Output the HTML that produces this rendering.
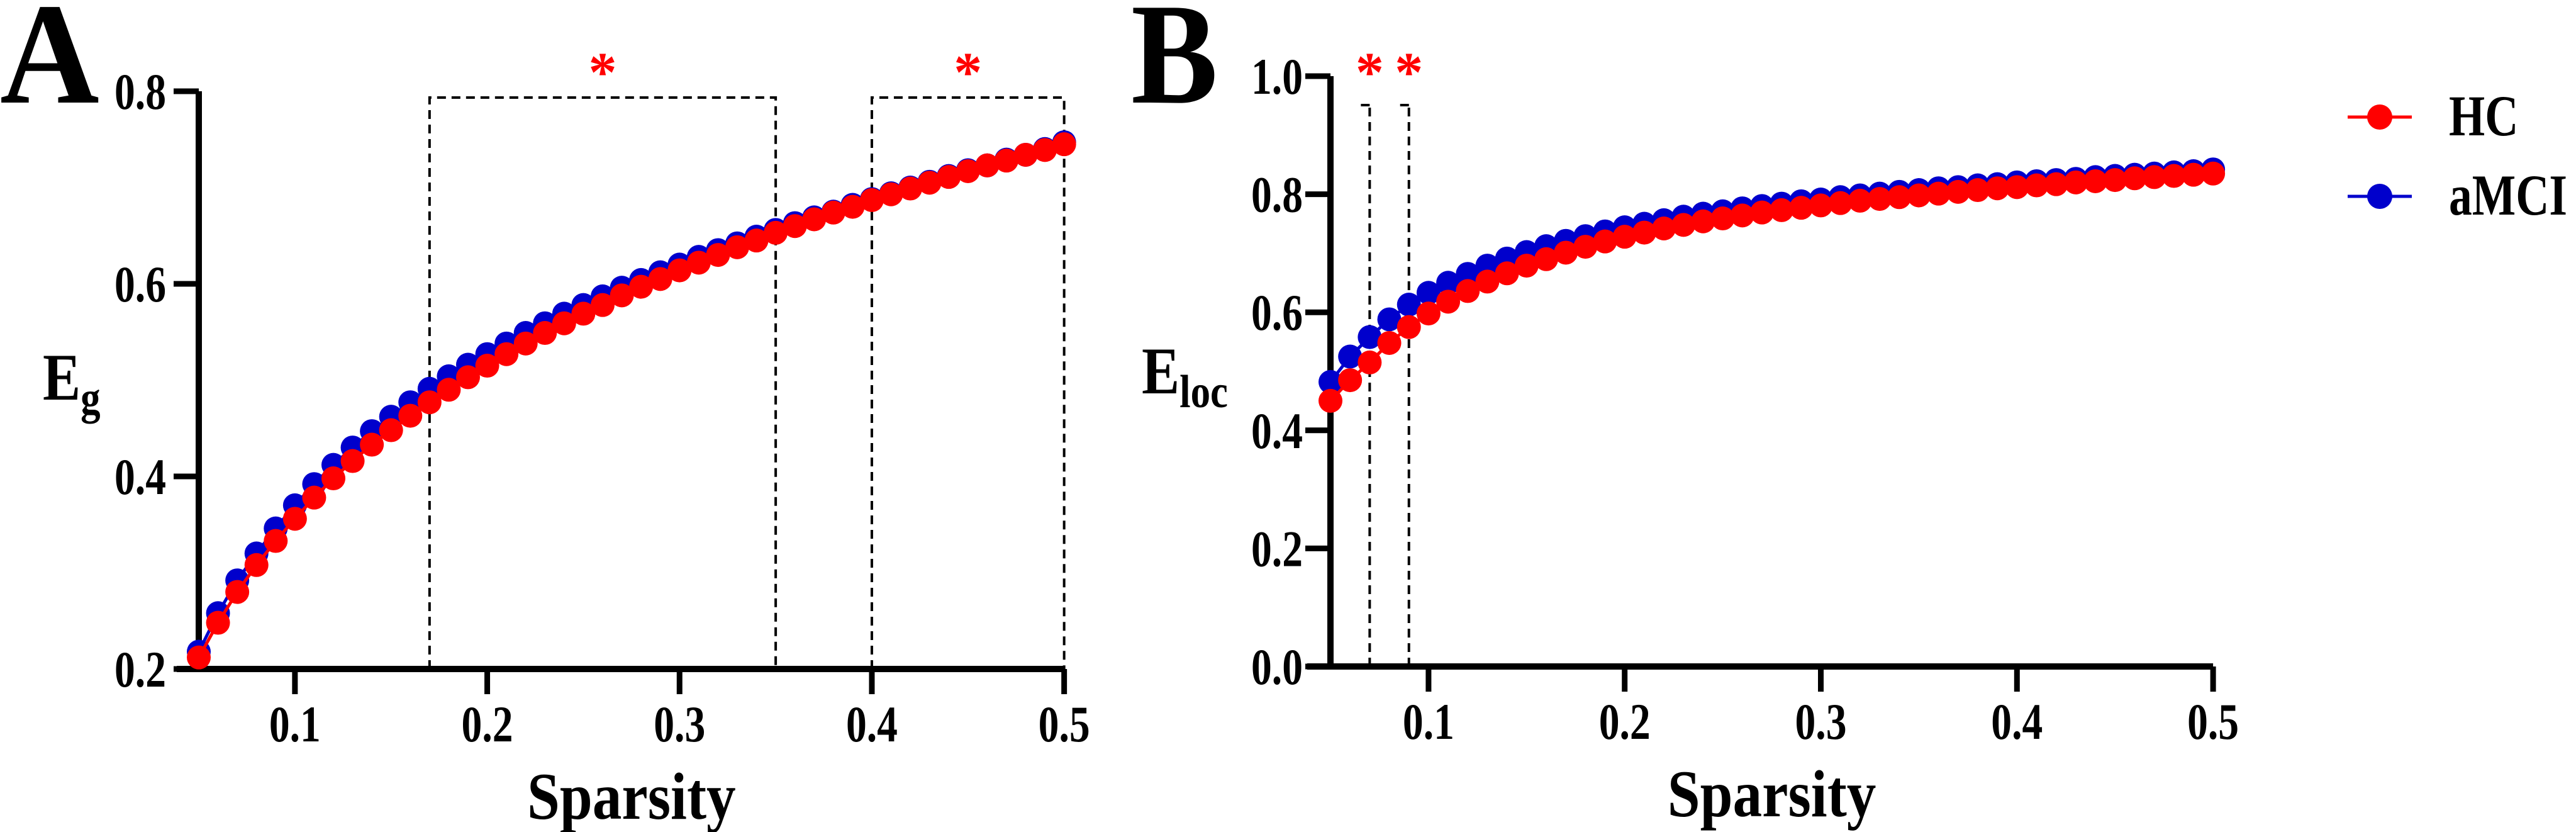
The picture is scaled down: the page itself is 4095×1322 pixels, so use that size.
<!DOCTYPE html>
<html><head><meta charset="utf-8"><style>
html,body{margin:0;padding:0;background:#fff;}
svg{display:block;font-family:"Liberation Serif","Times New Roman",serif;font-weight:bold;}
</style></head><body>
<svg id="chart" width="4095" height="1322" viewBox="0 0 4095 1322">
<text transform="translate(0,163) scale(0.95,1)" font-size="230">A</text>
<text transform="translate(1798,163) scale(0.9,1)" font-size="230">B</text>
<g id="pa"></g>
<g id="pb"></g>
<g>
<g>
<line x1="3732" y1="186" x2="3834" y2="186" stroke="#ff0000" stroke-width="5"/>
<circle cx="3783" cy="186" r="20" fill="#ff0000"/>
<text transform="translate(3893,215) scale(0.8,1)" font-size="92">HC</text></g>
<g>
<line x1="3732" y1="312" x2="3834" y2="312" stroke="#0000cc" stroke-width="5"/>
<circle cx="3783" cy="312" r="20" fill="#0000cc"/>
<text transform="translate(3893,341) scale(0.8,1)" font-size="92">aMCI</text></g>
</g>
</svg>
<script>
const sparsity=[];for(let i=5;i<=50;i++)sparsity.push(i/100);
const egHC=[.212,.248,.28,.308,.333,.356,.378,.398,.416,.433,.448,.463,.477,.490,.503,.515,.527,.538,.549,.559,.569,.578,.588,.597,.605,.614,.622,.630,.638,.645,.653,.660,.667,.674,.680,.687,.693,.699,.705,.711,.717,.723,.728,.734,.739,.745];
const egMCI=[.218,.258,.292,.320,.346,.370,.392,.412,.430,.447,.462,.477,.491,.504,.516,.527,.538,.549,.559,.569,.578,.587,.596,.604,.612,.620,.628,.635,.642,.649,.656,.663,.669,.675,.682,.688,.694,.700,.706,.712,.718,.723,.729,.734,.740,.747];
const elHC=[.45,.485,.515,.548,.575,.598,.618,.636,.652,.666,.679,.690,.701,.711,.720,.728,.735,.742,.748,.754,.759,.764,.769,.773,.777,.781,.785,.789,.792,.795,.798,.801,.804,.807,.810,.812,.815,.817,.820,.822,.824,.827,.829,.831,.833,.835];
const elMCI=[.482,.525,.558,.588,.613,.633,.650,.665,.679,.691,.702,.712,.721,.729,.737,.744,.750,.756,.762,.767,.771,.776,.780,.784,.788,.791,.795,.798,.801,.804,.807,.810,.812,.815,.817,.820,.822,.824,.826,.829,.831,.833,.835,.837,.839,.842];
const xTicks=[0.1,0.2,0.3,0.4,0.5];
const yTicksA=[0.2,0.4,0.6,0.8];
const yTicksB=[0,0.2,0.4,0.6,0.8,1.0];
const sigA=[[0.17,0.35],[0.40,0.50]];
const sigB=[0.07,0.09];
const NS='http://www.w3.org/2000/svg';
function mk(p,t,a){const e=document.createElementNS(NS,t);for(const k in a)e.setAttribute(k,a[k]);p.appendChild(e);return e;}
function txt(p,x,y,s,size,anchor,sx,fill){const e=mk(p,'text',{transform:`translate(${x},${y}) scale(${sx},1)`,'font-size':size,'text-anchor':anchor,fill:fill||'#000'});e.textContent=s;return e;}
function panel(g,o){
 const X=v=>o.x0+(v-0.05)*o.xs, Y=v=>o.y0-(v-o.ymin)*o.ys;
 const ax=mk(g,'path',{d:`M${o.axL} ${o.y0}H${X(0.5)}M${X(0.05)} ${o.y0}V${Y(o.ymax)}`,stroke:'#000','stroke-width':10,fill:'none'});
 
 xTicks.forEach(t=>{mk(g,'line',{x1:X(t),x2:X(t),y1:o.y0,y2:o.y0+40,stroke:'#000','stroke-width':9});
  const tx=txt(g,X(t),o.y0+115,t.toFixed(1),82,'middle',0.8);
  });
 o.yt.forEach(t=>{mk(g,'line',{x1:X(0.05)-40,x2:X(0.05),y1:Y(t),y2:Y(t),stroke:'#000','stroke-width':9});
  const tx=txt(g,o.ylx,Y(t)+28,t.toFixed(1),82,'end',0.8);
  });
 const xt=txt(g,(X(0.05)+X(0.5))/2,o.y0+238,'Sparsity',106,'middle',0.88);
 
 o.sig(X,Y);
 [[o.b,'#0000cc','amci'],[o.r,'#ff0000','hc']].forEach(([arr,c,n])=>{
  const s=mk(g,'g',{});
  mk(s,'polyline',{points:arr.map((v,i)=>X(sparsity[i])+','+Y(v)).join(' '),stroke:c,'stroke-width':5,fill:'none'});
  arr.forEach((v,i)=>{const p=mk(s,'circle',{cx:X(sparsity[i]),cy:Y(v),r:19,fill:c});
   });
 });
}
const pa=document.getElementById('pa'),pb=document.getElementById('pb');
panel(pa,{x0:316,xs:3057,y0:1063,ymin:0.2,ymax:0.8,ys:1530,axL:281,ylx:264,yt:yTicksA,b:egMCI,r:egHC,
 sig:(X,Y)=>{sigA.forEach(([a,b])=>{
  const d=mk(pa,'path',{d:`M${X(a)} ${Y(0.2)}V155H${X(b)}V${Y(0.2)}`,stroke:'#000','stroke-width':4,'stroke-dasharray':'14 9',fill:'none'});
  
  const s=txt(pa,(X(a)+X(b))/2,145,'*',90,'middle',1,'#ff0000');
  });}});
const ey=mk(pa,'text',{transform:'translate(68,635) scale(0.85,1)','font-size':106});ey.innerHTML='E<tspan font-size="74" dy="22">g</tspan>';

panel(pb,{x0:2115,xs:3118,y0:1059,ymin:0,ymax:1.0,ys:938,axL:2078,ylx:2071,yt:yTicksB,b:elMCI,r:elHC,
 sig:(X,Y)=>{sigB.forEach(a=>{
  const d=mk(pb,'path',{d:`M${X(a)} ${Y(0)}V167M${X(a)-14} 167H${X(a)+2}`,stroke:'#000','stroke-width':4,'stroke-dasharray':'14 9',fill:'none'});
  
  const s=txt(pb,X(a),145,'*',90,'middle',1,'#ff0000');
  });}});
const el=mk(pb,'text',{transform:'translate(1815,625) scale(0.85,1)','font-size':106});el.innerHTML='E<tspan font-size="74" dy="22">loc</tspan>';

</script>
</body></html>
